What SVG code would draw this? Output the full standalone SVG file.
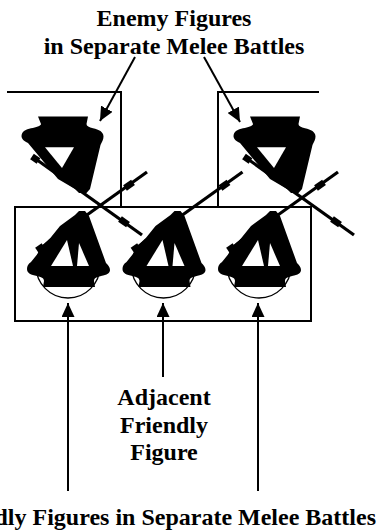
<svg xmlns="http://www.w3.org/2000/svg" xmlns:xlink="http://www.w3.org/1999/xlink" width="378" height="531" viewBox="0 0 378 531">
<style>
.lbl{font-weight:bold;font-size:24px;fill:#000}
.ln{stroke:#000;stroke-width:2;fill:none}
.spear{stroke:#000;stroke-width:3.2;stroke-linecap:butt;fill:none}
.grip{stroke:#000;stroke-width:6.5;fill:none}
.head{stroke:#000;stroke-width:1.3;fill:none}
.blk{fill:#000}
.wht{fill:#fff}
</style>
<defs>
<marker id="ah" markerUnits="userSpaceOnUse" markerWidth="14" markerHeight="13" refX="14" refY="6.5" orient="auto">
<path d="M0,0 L14,6.5 L0,13 Z" fill="#000"/>
</marker>
<g id="enemy-fig">
<line class="spear" x1="33" y1="157" x2="142" y2="235"/>
<line class="grip" x1="32" y1="156.5" x2="38.5" y2="161"/>
<line class="grip" x1="120" y1="219" x2="128" y2="224.7"/>
<path class="blk" d="M38,116.5 L88,116.5 L86.5,124 C86.5,126 89,127.5 93,128.3 C99,129.5 103.5,132 103.5,136.5 C103.5,139.5 102,142 100.5,145 L90,189 L86.5,193 L79,193 L75,189 L58,179 L28,143 C24,141 21.5,139 21.5,136 C21.5,131.5 26,129.5 31,128.3 C36,127.3 41,126 41,124 Z"/>
<path class="wht" d="M45,147.3 L74,147.3 L62,168 Z"/>
</g>
<g id="friendly-fig">
<circle class="head" cx="68" cy="266" r="32"/>
<line class="spear" x1="38" y1="250" x2="147" y2="172"/>
<line class="grip" x1="37" y1="250.5" x2="43.5" y2="246"/>
<line class="grip" x1="125" y1="188" x2="133" y2="182.3"/>
<path class="blk" d="M43,287 L95,287 L94,281 C94,278 97,277 101,276 C107,275 110,273 110,270 C110,267 108,265 106,263 L89,216 L85,211 L79,211 L75,215 L60,226 L31,262 C28,264 27,266 27,269 C27,273 31,275 37,276 C41,277 44,278 44,281 Z"/>
<path class="wht" d="M51,266 L67,240 L73,266 Z"/>
<path class="wht" d="M77,266 L79,243 L89,266 Z"/>
</g>
</defs>
<g id="friendly-frame">
<rect x="15" y="207" width="296" height="114" class="ln"/>
</g>
<g id="enemy-1">
<use xlink:href="#enemy-fig"/>
</g>
<g id="enemy-2">
<use xlink:href="#enemy-fig" transform="translate(212,0)"/>
</g>
<g id="friendly-1">
<use xlink:href="#friendly-fig"/>
</g>
<g id="friendly-2">
<use xlink:href="#friendly-fig" transform="translate(95.5,0)"/>
</g>
<g id="friendly-3">
<use xlink:href="#friendly-fig" transform="translate(191,0)"/>
</g>
<g id="connectors">
<polyline class="ln" points="7,92 121,92 121,207"/>
<polyline class="ln" points="319,92 218,92 218,207"/>
<line class="ln" x1="135" y1="57" x2="100" y2="121" marker-end="url(#ah)"/>
<line class="ln" x1="204" y1="57" x2="240" y2="122" marker-end="url(#ah)"/>
<line class="ln" x1="68" y1="491" x2="68" y2="303" marker-end="url(#ah)"/>
<line class="ln" x1="163" y1="377" x2="163" y2="303" marker-end="url(#ah)"/>
<line class="ln" x1="258" y1="491" x2="258" y2="303" marker-end="url(#ah)"/>
</g>
<g id="label-enemy" font-family="Liberation Serif, Times New Roman, serif">
<text class="lbl" x="174" y="26" text-anchor="middle">Enemy Figures</text>
<text class="lbl" x="174" y="54" text-anchor="middle">in Separate Melee Battles</text>
</g>
<g id="label-adjacent" font-family="Liberation Serif, Times New Roman, serif">
<text class="lbl" x="164" y="405" text-anchor="middle">Adjacent</text>
<text class="lbl" x="164" y="432.5" text-anchor="middle">Friendly</text>
<text class="lbl" x="164" y="460" text-anchor="middle">Figure</text>
</g>
<g id="label-friendly" font-family="Liberation Serif, Times New Roman, serif">
<text class="lbl" x="376" y="525" text-anchor="end">Friendly Figures in Separate Melee Battles</text>
</g>
</svg>
